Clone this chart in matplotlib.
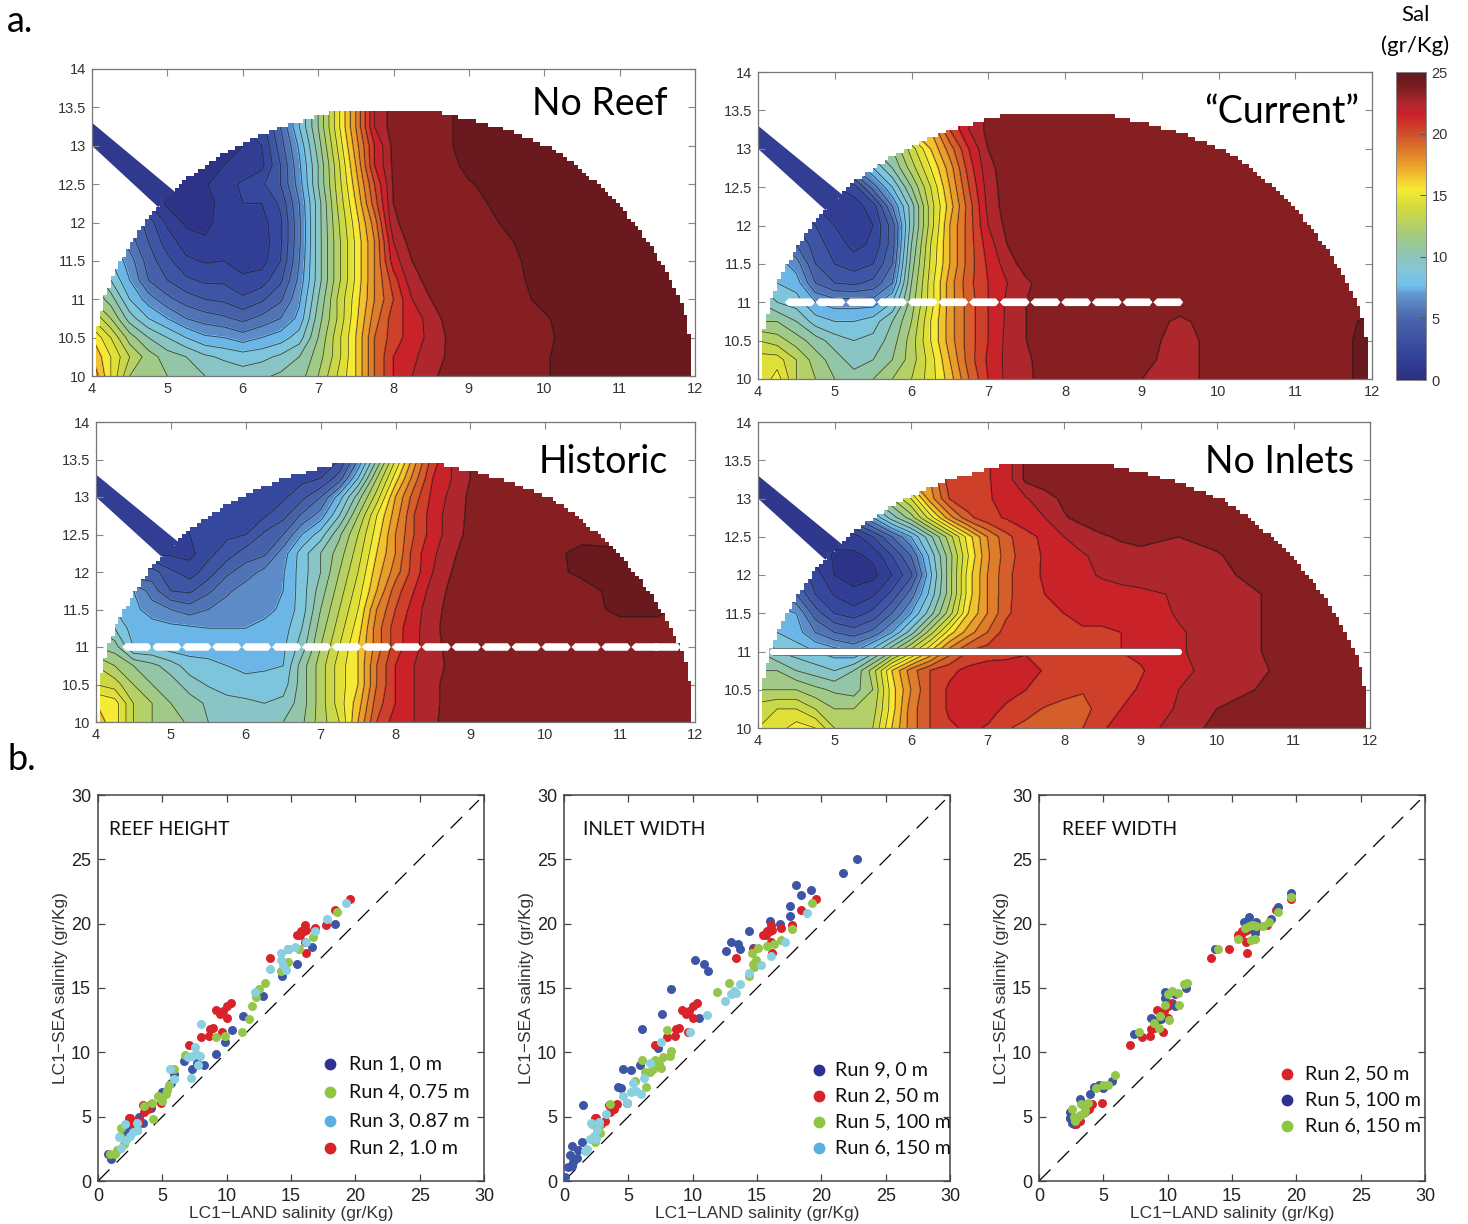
import numpy as np
import matplotlib
matplotlib.use('Agg')
import matplotlib.pyplot as plt
from matplotlib.colors import LinearSegmentedColormap, Normalize
from matplotlib.cm import ScalarMappable
from matplotlib.patches import Polygon

W, H = 1468, 1224
plt.rcParams['font.family'] = ['Liberation Sans', 'DejaVu Sans']

# --- salinity fields (rows: grid_y, columns: grid_x) ---
grid_x = [4, 4.25, 4.5, 4.75, 5, 5.25, 5.5, 5.75, 6, 6.25, 6.5, 6.75, 7, 7.25, 7.5, 7.75, 8, 8.25, 8.5, 8.75, 9, 9.5, 10, 10.5, 11, 11.5, 12]
grid_y = [10, 10.25, 10.5, 10.75, 11, 11.25, 11.5, 11.75, 12, 12.25, 12.5, 12.75, 13, 13.25, 13.5]

no_reef = [
    [18, 15, 12, 11.5, 11, 10.5, 10, 9.8, 9.5, 9.8, 10.2, 10.5, 12, 14, 16, 19, 21, 22, 22.7, 23.5, 23.6, 23.7, 23.9, 24.5, 24.5, 24.5, 24.5],
    [17, 15, 13, 11.5, 10.5, 10, 9.2, 8.8, 8.5, 8.7, 9.2, 10, 11.5, 13.5, 16, 19, 21, 21.8, 22.5, 23.2, 23.5, 23.6, 23.9, 24.5, 24.5, 24.5, 24.5],
    [16, 14, 11.5, 10, 9, 8, 7.2, 7, 6.5, 7, 7.5, 8.5, 11, 13.5, 16, 19, 20.5, 21.5, 22.3, 23.2, 23.5, 23.6, 23.8, 24.5, 24.5, 24.5, 24.5],
    [14, 12, 9.5, 8, 7, 6, 5.5, 5.2, 4.7, 5.3, 6, 7.3, 10.5, 13, 15.7, 18.5, 20.5, 21.5, 22.4, 23.5, 23.5, 23.6, 23.9, 24.5, 24.5, 24.5, 24.5],
    [12, 10.5, 8, 6.5, 5.3, 4.5, 4, 3.8, 3.2, 3.8, 4.8, 6.8, 10, 13, 15.5, 18, 20, 22, 23, 23.5, 23.5, 23.6, 24.2, 24.5, 24.5, 24.5, 24.5],
    [11, 9, 7, 5, 4, 3.2, 2.8, 2.8, 2.2, 2.5, 3.8, 6.3, 9.5, 12.5, 15.2, 18, 20.5, 22.7, 23.3, 23.5, 23.5, 23.7, 24.3, 24.5, 24.5, 24.5, 24.5],
    [10, 8, 6.5, 4.5, 3.3, 2.2, 1.9, 2, 1.6, 1.6, 3, 6, 9.5, 12.5, 15.2, 18, 21.5, 23, 23.5, 23.5, 23.5, 23.8, 24.3, 24.5, 24.5, 24.5, 24.5],
    [9, 7, 5.5, 4, 2.5, 1.5, 1.1, 1.3, 1.5, 1.4, 2.8, 5.8, 9.5, 12.5, 15.2, 18, 22, 23.5, 23.5, 23.5, 23.5, 23.9, 24.4, 24.5, 24.5, 24.5, 24.5],
    [8, 6, 5, 3.5, 1.8, 0.8, 0.8, 1.3, 1.8, 1.6, 2.8, 5.8, 9.5, 12.7, 15.5, 18.5, 22.8, 23.5, 23.5, 23.5, 23.6, 24.1, 24.5, 24.5, 24.5, 24.5, 24.5],
    [6, 4, 3, 2, 0.8, 0.6, 0.7, 1.3, 2, 2, 3.2, 6, 9.5, 13, 16, 19.5, 23, 23.5, 23.5, 23.5, 23.7, 24.3, 24.5, 24.5, 24.5, 24.5, 24.5],
    [4, 3, 2, 1.5, 1, 0.9, 0.9, 1.5, 2.2, 2.8, 4, 6.5, 10, 13.3, 16.5, 20, 23.1, 23.5, 23.5, 23.5, 23.9, 24.5, 24.5, 24.5, 24.5, 24.5, 24.5],
    [3, 2, 1.5, 1, 1, 1, 1, 1, 1.1, 1.7, 4, 6.8, 10, 13.5, 17, 21, 23.2, 23.5, 23.5, 23.7, 24.3, 24.5, 24.5, 24.5, 24.5, 24.5, 24.5],
    [2, 2, 1.5, 1, 1, 1, 1, 1, 1, 2, 4.5, 7.2, 10.5, 14, 17.5, 21, 23.3, 23.5, 23.5, 23.9, 24.5, 24.5, 24.5, 24.5, 24.5, 24.5, 24.5],
    [2, 2, 2, 2, 2, 2, 2, 2, 2, 2.5, 5, 8, 11, 14.5, 18, 22, 23.5, 23.5, 23.5, 23.9, 24.5, 24.5, 24.5, 24.5, 24.5, 24.5, 24.5],
    [2, 2, 2, 2, 2, 2, 2, 2, 2, 2.5, 5, 8, 11, 14.5, 18, 22, 23.5, 23.5, 23.5, 23.9, 24.5, 24.5, 24.5, 24.5, 24.5, 24.5, 24.5],
]

current = [
    [14, 15.5, 13, 12, 11, 10.5, 11, 12, 13, 14.5, 16.5, 19, 21, 22.3, 22.7, 23.5, 23.5, 23.5, 23.5, 23.5, 23, 22.5, 23.5, 23.5, 23.5, 23.5, 24.5],
    [14.5, 14.5, 13, 11.5, 10.5, 9.5, 10, 11, 12.5, 14.5, 17, 19.5, 21.2, 22.3, 22.8, 23.5, 23.5, 23.5, 23.5, 23.5, 23.3, 22.5, 23.5, 23.5, 23.5, 23.5, 24.5],
    [13, 12.5, 11.5, 10.5, 9.5, 9, 9.3, 10.5, 12.5, 15, 17.5, 19.5, 21, 22.3, 23, 23.5, 23.5, 23.5, 23.5, 23.5, 23.5, 22.5, 23.5, 23.5, 23.5, 23.5, 24.5],
    [11, 11, 10, 8.5, 8, 8, 8.5, 10, 12, 15, 17.5, 19.5, 21, 22.2, 23, 23.5, 23.5, 23.5, 23.5, 23.5, 23.5, 22.8, 23.5, 23.5, 23.5, 23.5, 24.3],
    [10, 9, 8.5, 7, 6.5, 6.5, 6.5, 8, 11.5, 14.5, 17.5, 19.5, 21, 22.2, 23, 23.5, 23.5, 23.5, 23.5, 23.5, 23.5, 23.5, 23.5, 23.5, 23.5, 23.5, 23.5],
    [9, 8, 7.5, 5, 4, 3.8, 4.3, 6, 11, 14.5, 17.5, 19.7, 21, 22, 22.8, 23.5, 23.5, 23.5, 23.5, 23.5, 23.5, 23.5, 23.5, 23.5, 23.5, 23.5, 23.5],
    [8, 7.5, 6.5, 4, 3, 2.5, 3, 5, 10.5, 14.2, 17, 19.5, 21.2, 22.5, 23.5, 23.5, 23.5, 23.5, 23.5, 23.5, 23.5, 23.5, 23.5, 23.5, 23.5, 23.5, 23.5],
    [7, 6, 5, 3.5, 2.5, 1.7, 2.2, 4.5, 10, 14, 17, 19.5, 21.5, 23, 23.5, 23.5, 23.5, 23.5, 23.5, 23.5, 23.5, 23.5, 23.5, 23.5, 23.5, 23.5, 23.5],
    [6, 5, 4, 3, 2, 1.5, 2, 4.5, 9.5, 13.5, 17, 19.5, 22, 23.3, 23.5, 23.5, 23.5, 23.5, 23.5, 23.5, 23.5, 23.5, 23.5, 23.5, 23.5, 23.5, 23.5],
    [5, 4, 3, 2, 1.5, 1.5, 2.5, 6, 9.5, 13.5, 16.5, 19.5, 22.3, 23.5, 23.5, 23.5, 23.5, 23.5, 23.5, 23.5, 23.5, 23.5, 23.5, 23.5, 23.5, 23.5, 23.5],
    [4, 3, 2, 1.5, 2, 2.5, 5.5, 8, 11, 14, 17, 20, 22.5, 23.5, 23.5, 23.5, 23.5, 23.5, 23.5, 23.5, 23.5, 23.5, 23.5, 23.5, 23.5, 23.5, 23.5],
    [4, 3, 3, 4, 5, 6, 8, 10, 12.5, 15, 17.5, 20.5, 22.7, 23.5, 23.5, 23.5, 23.5, 23.5, 23.5, 23.5, 23.5, 23.5, 23.5, 23.5, 23.5, 23.5, 23.5],
    [6, 6, 6, 6, 7, 8, 10, 11, 13.5, 16, 18.5, 21, 23, 23.5, 23.5, 23.5, 23.5, 23.5, 23.5, 23.5, 23.5, 23.5, 23.5, 23.5, 23.5, 23.5, 23.5],
    [10, 10, 10, 10, 11, 12, 13, 15, 16, 17, 20, 22, 23.3, 23.5, 23.5, 23.5, 23.5, 23.5, 23.5, 23.5, 23.5, 23.5, 23.5, 23.5, 23.5, 23.5, 23.5],
    [10, 10, 10, 10, 11, 12, 13, 15, 16, 17, 20, 22, 23.3, 23.5, 23.5, 23.5, 23.5, 23.5, 23.5, 23.5, 23.5, 23.5, 23.5, 23.5, 23.5, 23.5, 23.5],
]

historic = [
    [16.5, 15.5, 13, 12, 11.5, 10.8, 10, 9.8, 9.3, 9.5, 10, 10.8, 12.5, 14, 17, 20, 21.5, 22, 22.8, 23.5, 23.5, 23.5, 23.5, 23.5, 23.5, 23.5, 23.5],
    [16, 15.5, 13, 12, 11, 10.5, 9.8, 9.3, 9.2, 9, 9.3, 10.5, 12.5, 14.5, 16.5, 19.5, 21, 22, 22.7, 23.5, 23.5, 23.5, 23.5, 23.5, 23.5, 23.5, 23.5],
    [14, 13.5, 12, 11, 10.5, 9.5, 8.9, 8.6, 8.4, 8.5, 8.5, 10.5, 12.5, 14.5, 16, 19, 21, 22, 22.7, 23.5, 23.5, 23.5, 23.5, 23.5, 23.5, 23.5, 23.5],
    [13, 12, 11, 10.3, 9.5, 8.5, 8.3, 8, 7.7, 7.8, 8, 10.5, 12.5, 14.5, 16, 19, 21, 22, 22.5, 23.3, 23.5, 23.5, 23.5, 23.5, 23.5, 23.5, 23.5],
    [11, 10.5, 8, 8, 7.5, 7.5, 7.5, 7.5, 7.5, 7.6, 7.8, 9.5, 12, 14, 16, 18.5, 20.5, 21.8, 22.5, 23.5, 23.5, 23.5, 23.5, 23.5, 23.5, 23.5, 23.5],
    [10, 9, 7.5, 7.5, 7.3, 7.2, 7, 7, 7, 7.3, 7.5, 9, 11.5, 13.5, 15.5, 18.5, 20.5, 21.7, 22.7, 23.5, 23.5, 23.5, 23.5, 23.5, 23.5, 23.5, 23.5],
    [9, 8, 7.3, 6.5, 6, 5.5, 6, 6.5, 6.5, 6.7, 7.2, 8.5, 11, 13, 15, 18, 20, 21.5, 22.7, 23.3, 23.5, 23.5, 23.5, 23.5, 24.3, 24.3, 23.5],
    [8, 7, 7, 5.5, 4, 3.8, 4.8, 5.8, 6.5, 6.5, 7, 8.5, 10.5, 12.5, 14.5, 17, 19.5, 21, 22.5, 23.2, 23.5, 23.5, 23.5, 23.5, 24.5, 24.5, 23.5],
    [6, 5, 4, 4.5, 3.2, 2.5, 3.5, 4.8, 5.5, 6.3, 6.9, 8.5, 10, 12, 14, 16.5, 18.5, 20.5, 22, 23, 23.5, 23.5, 23.5, 24.3, 24.3, 24.5, 23.5],
    [4, 3, 2, 2, 1.8, 1.7, 2.7, 3.5, 4.5, 4.8, 6.5, 8.5, 10, 11.5, 13.5, 16, 18, 20.5, 21.8, 22.8, 23.5, 23.5, 23.5, 24.4, 24.2, 23.5, 23.5],
    [3, 2, 2, 2, 2, 2, 2.5, 2.8, 3, 4.2, 5, 7, 8.5, 10.8, 13, 15.5, 18, 20, 21.5, 22.5, 23.3, 23.5, 23.5, 23.5, 23.5, 23.5, 23.5],
    [2, 2, 2, 2, 2, 2, 2.5, 2.6, 2.7, 2.9, 3.7, 5.2, 6.5, 9, 12, 15, 17.5, 20, 21.5, 22.5, 23.2, 23.5, 23.5, 23.5, 23.5, 23.5, 23.5],
    [2, 2, 2, 2, 2, 2, 2, 2, 2.4, 2.5, 2.8, 3.7, 5, 7.5, 10.5, 13.5, 17, 19.5, 21.3, 22.3, 23.2, 23.5, 23.5, 23.5, 23.5, 23.5, 23.5],
    [2, 2, 2, 2, 2, 2, 2, 2, 2, 2.4, 2.5, 2.7, 3, 4.5, 8, 12, 15.5, 18.5, 21, 22, 23, 23.5, 23.5, 23.5, 23.5, 23.5, 23.5],
    [2, 2, 2, 2, 2, 2, 2, 2, 2, 2, 2.4, 2.5, 2.7, 3, 6, 10, 14, 17.5, 20.5, 22, 23, 23.5, 23.5, 23.5, 23.5, 23.5, 23.5],
]

no_inlets = [
    [14, 14.5, 15.5, 15, 13, 12.5, 13, 16, 18.5, 20, 20.8, 21.2, 20.9, 20.1, 19.7, 19.5, 19.7, 20, 20.9, 21.3, 21.6, 22.4, 23.3, 23.5, 23.5, 23.5, 23.5],
    [13.5, 14, 14, 13, 12, 12, 12.5, 15.5, 18.5, 20, 21.2, 21.5, 21.4, 20.8, 20.4, 19.9, 19.6, 19.6, 20.5, 21, 21.4, 22.1, 23, 23.5, 23.5, 23.5, 23.5],
    [12, 12, 12, 11.3, 10.8, 10.5, 12, 15.5, 18, 20, 21.2, 21.5, 21.5, 21.4, 21, 20.8, 20.4, 20.1, 20.3, 20.7, 21.1, 22, 22.6, 23, 23.5, 23.5, 23.5],
    [11, 11, 10, 9.5, 9, 10, 12.5, 16, 18.5, 20, 20.7, 21.3, 21.5, 21.4, 21.4, 20.9, 20.8, 20.8, 20.9, 20.7, 20.9, 21.8, 22.3, 22.7, 23.5, 23.5, 23.5],
    [10, 9, 8.5, 8, 7.5, 7, 8.5, 11, 13.5, 16, 18.5, 20, 20.5, 20.7, 20.9, 20.9, 20.9, 20.9, 21, 21, 21.2, 21.9, 22.4, 22.9, 23.5, 23.5, 23.5],
    [9, 8, 7.5, 6, 5, 4.5, 5.3, 7, 9.5, 12.5, 15.5, 17.5, 19, 20.5, 20.7, 20.8, 20.9, 20.9, 20.9, 21, 21.3, 21.9, 22.4, 22.9, 23.5, 23.5, 23.5],
    [8, 7.5, 7, 4.5, 3, 2.5, 3.3, 5, 7, 9.5, 12.5, 16, 18, 19.8, 20.7, 20.9, 21, 21.2, 21.2, 21.3, 21.5, 22.1, 22.5, 22.9, 23.5, 23.5, 23.5],
    [7, 6, 5, 3, 1.9, 1.2, 1.8, 3.3, 5.5, 8.3, 11.5, 15.5, 18, 19.7, 20.7, 21, 21.4, 21.5, 21.6, 21.7, 21.8, 22.1, 22.5, 22.9, 23.5, 23.5, 23.5],
    [6, 5, 4, 2.5, 1, 0.7, 0.7, 2, 3.8, 7.7, 11.5, 15.5, 18, 19.7, 20.7, 21.1, 21.5, 21.8, 22.1, 22.3, 22.4, 22.6, 22.7, 23.3, 23.5, 23.5, 23.5],
    [4, 3, 2, 1.5, 0.9, 0.8, 1.2, 3, 5, 8.3, 11.5, 15, 17.8, 19.5, 20.6, 21.1, 21.6, 21.9, 22.3, 22.7, 22.8, 22.9, 22.9, 23.5, 23.5, 23.5, 23.5],
    [3, 2, 2, 1.5, 1.2, 1.5, 3, 5, 7, 9.7, 12.5, 15.5, 18, 19.7, 20.7, 21.2, 22, 22.5, 22.9, 23.1, 23.2, 23, 23.3, 23.5, 23.5, 23.5, 23.5],
    [3, 3, 3, 3, 4, 5, 7, 9.5, 11.5, 14.5, 17.5, 19.7, 20.7, 21.1, 21.5, 22, 22.9, 23.3, 23.5, 23.5, 23.5, 23.5, 23.5, 23.5, 23.5, 23.5, 23.5],
    [5, 5, 6, 7, 8, 9, 10, 12, 14, 17.5, 20, 20.7, 20.9, 21.3, 21.9, 22.6, 23.2, 23.5, 23.5, 23.5, 23.5, 23.5, 23.5, 23.5, 23.5, 23.5, 23.5],
    [10, 10, 11, 12, 13, 14, 15, 16, 17, 18, 20.5, 20.7, 20.9, 21.5, 23.2, 23.5, 23.5, 23.5, 23.5, 23.5, 23.5, 23.5, 23.5, 23.5, 23.5, 23.5, 23.5],
    [10, 10, 11, 12, 13, 14, 15, 16, 17, 18, 20.5, 20.7, 20.9, 21.5, 23.2, 23.5, 23.5, 23.5, 23.5, 23.5, 23.5, 23.5, 23.5, 23.5, 23.5, 23.5, 23.5],
]

# lagoon outline and the channel that leaves it to the upper left
shore_y = [10, 10.25, 10.5, 10.75, 11, 11.25, 11.5, 11.75, 12, 12.25, 12.5, 12.75, 13, 13.2, 13.35, 13.45]
shore_left = [4.03, 4.04, 4.05, 4.1, 4.17, 4.27, 4.4, 4.55, 4.72, 4.92, 5.2, 5.55, 5.98, 6.45, 6.95, 7.35]
shore_right = [11.97, 11.96, 11.94, 11.9, 11.82, 11.7, 11.55, 11.4, 11.2, 11.0, 10.74, 10.45, 10.1, 9.6, 9.1, 8.65]
channel_x = [4, 5.1, 4.88, 4]
channel_y = [13.3, 12.4, 12.2, 13.0]

# reef segments along y = 11
current_wall = [4.35, 4.75, 5.15, 5.55, 5.95, 6.35, 6.75, 7.15, 7.55, 7.95, 8.35, 8.75, 9.15]
historic_wall = [4.35, 4.75, 5.15, 5.55, 5.95, 6.35, 6.75, 7.15, 7.55, 7.95, 8.35, 8.75, 9.15, 9.55, 9.95, 10.35, 10.75, 11.15, 11.42]

# colour scale
sal_stops = [0, 2, 5, 7, 7.6, 9, 10, 12, 14, 15.5, 17, 19, 20, 21.5, 22.5, 23.5, 24.5, 25]
sal_colors = ['#2b2f80', '#33439b', '#4a66ad', '#6399d0', '#6dc0ee', '#85c6d4', '#8cc4b8', '#a8cc78', '#d3da3c',
              '#f5ea35', '#efb02b', '#d96f2a', '#cf4f2a', '#cc2229', '#b0272c', '#861f22', '#6a1a1e', '#661a1e']

# --- scatter data (LC1-LAND, LC1-SEA) ---
run1_x = [0.8, 1.0, 2.2, 2.5, 3.0, 3.2, 3.5, 4.1, 5.0, 5.7, 5.9, 6.7, 7.3, 7.7, 8.2, 9.2, 9.9, 10.4, 11.3, 12.8, 14.3, 15.5, 16.6, 18.4]
run1_y = [2.1, 1.7, 3.8, 4.0, 4.0, 5.0, 4.5, 5.7, 6.9, 7.6, 8.3, 9.3, 8.7, 9.2, 9.0, 9.9, 10.8, 11.7, 12.8, 14.4, 15.9, 16.9, 18.2, 20.0]
run4_x = [0.9, 1.3, 1.5, 1.8, 1.7, 2.0, 3.6, 4.2, 4.3, 4.7, 5.0, 5.3, 5.4, 5.5, 5.9, 6.8, 9.2, 9.9, 11.2, 11.7, 12, 12.3, 12.5, 13, 14.2, 14.8, 15.6, 16.7, 18.6]
run4_y = [2.1, 2.1, 2.4, 4.1, 3.5, 2.9, 5.8, 6.1, 4.8, 6.6, 6.2, 6.8, 7.1, 7.5, 8.7, 9.8, 11.2, 11.3, 11.6, 12.6, 13.6, 14.3, 14.9, 15.4, 16.3, 17, 18, 19, 20.9]
run3_x = [1.6, 1.8, 2.1, 2.2, 2.5, 2.7, 3.0, 3.0, 5.6, 5.9, 7.0, 7.2, 7.3, 7.5, 7.6, 7.8, 7.9, 8.0, 12.2, 13.4, 14.2, 14.2, 14.4, 14.6, 14.8, 15.3, 16.2, 16.9, 17.8, 19.3]
run3_y = [3.4, 2.6, 4.4, 3.2, 3.5, 3.8, 4.0, 4.5, 8.7, 7.9, 9.6, 8.0, 9.7, 10.4, 9.9, 9.0, 9.7, 12.2, 14.7, 16.5, 17.7, 17.2, 16.8, 16.4, 18, 18.2, 18.6, 19.4, 20.4, 21.6]
run2_x = [2.4, 2.5, 2.7, 2.9, 3.2, 3.5, 3.6, 3.9, 4.1, 4.9, 7.1, 8.0, 8.6, 8.7, 8.9, 9.6, 9.2, 9.5, 9.7, 10.0, 10.0, 10.3, 13.4, 14.8, 15.5, 15.7, 15.8, 16.0, 16.2, 16.1, 16.1, 16.2, 16.9, 17.7, 18.4, 19.6]
run2_y = [4.9, 4.9, 4.4, 4.4, 4.7, 5.9, 5.4, 5.6, 6.0, 6.1, 10.6, 11.2, 11.3, 11.8, 11.9, 11.6, 13.3, 13.0, 13.2, 12.7, 13.6, 13.8, 17.3, 18.0, 19.1, 19.1, 19.4, 19.4, 19.5, 19.9, 18.6, 17.7, 19.7, 19.9, 21.1, 21.9]

run9_x = [0.1, 0.3, 0.5, 0.6, 0.6, 0.7, 1.0, 1.1, 1.4, 1.5, 4.2, 4.4, 4.6, 5.2, 5.9, 6.1, 7.3, 7.6, 8.3, 10.2, 10.5, 10.9, 11.2, 12.6, 13.0, 13.5, 13.7, 14.4, 14.7, 16.0, 16.8, 17.6, 17.6, 18.0, 18.4, 19.2, 21.7, 22.8]
run9_y = [0.3, 1.1, 2.0, 2.7, 1.2, 1.5, 1.8, 2.4, 3.0, 5.9, 7.3, 7.2, 8.7, 8.6, 9.0, 11.8, 10.3, 13.0, 14.9, 17.2, 12.7, 16.9, 16.3, 17.9, 18.6, 18.4, 18.0, 19.4, 18.1, 20.2, 20.0, 20.6, 21.4, 23.0, 22.2, 22.6, 23.9, 25.0]
run5_x = [2.2, 2.4, 2.7, 2.8, 3.6, 5.5, 6.1, 6.3, 6.4, 6.7, 6.9, 7.1, 7.4, 7.5, 7.7, 8.0, 8.2, 8.3, 11.9, 12.8, 14.4, 14.6, 14.7, 14.8, 14.9, 15.1, 15.8, 16.3, 16.9, 17.7, 19.3]
run5_y = [4.4, 3.0, 4.3, 3.7, 6.0, 7.8, 9.4, 8.5, 7.3, 8.5, 8.7, 9.4, 9.1, 8.8, 9.6, 11.7, 9.7, 10.1, 14.7, 15.4, 15.9, 17.7, 16.9, 16.6, 17.2, 18.1, 18.3, 18.4, 18.7, 19.6, 21.6]
run6_x = [1.6, 1.8, 2.0, 2.1, 2.3, 2.5, 2.6, 2.7, 3.3, 4.6, 4.9, 5.2, 5.6, 5.4, 6.0, 6.2, 6.7, 7.5, 9.8, 11.1, 12.5, 13.0, 13.2, 13.4, 13.7, 14.4, 15.3, 16.1, 17.2, 18.9]
run6_y = [2.3, 2.5, 3.3, 4.5, 3.5, 3.3, 4.0, 4.6, 5.2, 6.6, 6.1, 6.9, 7.0, 7.6, 6.8, 8.0, 9.2, 10.8, 11.6, 12.9, 14.0, 14.5, 14.8, 14.6, 15.3, 16.2, 16.8, 17.5, 18.6, 20.8]

width100_x = [2.4, 2.4, 2.6, 3.2, 4.0, 4.3, 4.7, 5.0, 5.7, 7.4, 8.7, 9.2, 9.5, 9.8, 9.8, 10.6, 10.6, 11.4, 13.7, 15.9, 16.3, 16.5, 16.8, 16.9, 18.0, 18.6, 19.6]
width100_y = [5.4, 4.9, 4.5, 6.4, 6.8, 7.3, 7.5, 7.2, 7.8, 11.4, 12.7, 12.5, 12.6, 14.7, 14.2, 14.5, 13.6, 15.0, 18.0, 20.1, 20.5, 19.7, 19.3, 20.1, 20.4, 21.3, 22.4]
width150_x = [2.6, 2.7, 2.8, 3.0, 3.2, 3.3, 3.5, 3.6, 3.8, 4.4, 5.0, 5.4, 5.9, 7.8, 8.9, 9.3, 9.4, 9.8, 10.0, 10.1, 10.3, 10.8, 10.9, 11.3, 11.5, 13.9, 15.5, 16.0, 16.3, 16.5, 16.8, 16.6, 16.9, 17.4, 17.9, 18.6, 19.6]
width150_y = [5.6, 5.0, 4.7, 5.0, 5.1, 6.0, 5.3, 5.5, 6.1, 7.2, 7.5, 7.5, 8.2, 11.6, 12.3, 11.9, 12.8, 13.7, 14.5, 12.5, 14.8, 14.6, 13.7, 15.3, 15.4, 18.0, 18.8, 19.7, 19.8, 18.7, 18.8, 19.9, 19.8, 19.8, 20.1, 20.9, 22.1]

navy = '#3d55a5'
red = '#d8232a'
green = '#94c64a'
sky = '#8ad0e0'
navy_key = '#2e3192'
green_key = '#8dc63f'
sky_key = '#58b0e0'
lato = ['Lato', 'DejaVu Sans']

cmap = LinearSegmentedColormap.from_list('sal', [(s / 25, c) for s, c in zip(sal_stops, sal_colors)], N=256)
norm = Normalize(0, 25)


def px_axes(fig, left, top, right, bottom):
    return fig.add_axes([left / W, 1 - bottom / H, (right - left) / W, (bottom - top) / H])


def px_text(fig, x, y, s, **kw):
    fig.text(x / W, 1 - y / H, s, **kw)


def shore_outline():
    # the model grid makes the shore a staircase, so snap the outline to steps
    ys = np.arange(10, 13.4501, 0.05)
    left = np.round(np.interp(ys, shore_y, shore_left) / 0.05) * 0.05
    right = np.round(np.interp(ys, shore_y, shore_right) / 0.05) * 0.05
    pts = []
    for i, y in enumerate(ys):
        pts.append((left[i], y))
        if i + 1 < len(ys):
            pts.append((left[i], ys[i + 1]))
    for i in range(len(ys) - 1, -1, -1):
        pts.append((right[i], ys[i]))
        if i > 0:
            pts.append((right[i], ys[i - 1]))
    return pts


def lagoon(ax, table, channel_val, title, title_x, title_y, wall=None, solid_wall=False):
    z = np.array(table, dtype=float)
    levels = np.arange(0, 26)
    clip = Polygon(shore_outline(), closed=True, transform=ax.transData, fc='none', ec='none')
    ax.add_patch(clip)
    ax.fill(channel_x, channel_y, color=cmap(norm(channel_val)), lw=0, zorder=1)
    cf = ax.contourf(grid_x, grid_y, z, levels=levels, cmap=cmap, norm=norm, zorder=2)
    cf.set_edgecolor('face')
    cf.set_clip_path(clip)
    cl = ax.contour(grid_x, grid_y, z, levels=levels, colors='#1a1a1a', linewidths=0.6, alpha=0.75, zorder=3)
    cl.set_clip_path(clip)
    if solid_wall:
        ax.plot([4.2, 9.5], [11, 11], color='#555555', lw=5.5, solid_capstyle='butt', zorder=4)
        ax.plot([4.2, 9.5], [11, 11], color='white', lw=4.5, solid_capstyle='round', zorder=5)
    if wall is not None:
        for s in wall:
            ax.fill([s, s + 0.05, s + 0.35, s + 0.39, s + 0.35, s + 0.05],
                    [11, 11.05, 11.05, 11, 10.95, 10.95], color='white', lw=0, zorder=5)
    ax.set_xlim(4, 12)
    ax.set_ylim(10, 14)
    ax.set_xticks(range(4, 13))
    ax.set_yticks(np.arange(10, 14.01, 0.5))
    ax.set_yticklabels(['10', '10.5', '11', '11.5', '12', '12.5', '13', '13.5', '14'])
    ax.tick_params(direction='in', top=True, right=True, length=5, width=0.8, color='#888888',
                   labelsize=10.5, labelcolor='#333333', pad=4)
    for sp in ax.spines.values():
        sp.set_color('#777777')
        sp.set_linewidth(0.9)
        sp.set_zorder(6)
    ax.text(title_x, title_y, title, ha='center', va='center', fontsize=27, color='black',
            family=lato, zorder=7)


def scatter_panel(ax, series, keys, title, title_x, key_x, text_x, key_rows):
    for xs, ys, c in series:
        ax.scatter(xs, ys, s=42, color=c, lw=0, zorder=3)
    ax.plot([0, 29.6], [0, 29.6], color='black', lw=0.9, dashes=(13, 8), zorder=2)
    for (label, c), ky in zip(keys, key_rows):
        ax.scatter([key_x], [ky], s=72, color=c, lw=0, zorder=4)
        ax.text(text_x, ky, label, fontsize=14.2, va='center', ha='left', color='#111111',
                family=lato, zorder=4, clip_on=False)
    ax.text(title_x, 27.35, title, fontsize=13.8, va='center', color='#111111', family=lato)
    ax.set_xlim(0, 30)
    ax.set_ylim(0, 30)
    ax.set_xticks(range(0, 31, 5))
    ax.set_yticks(range(0, 31, 5))
    ax.tick_params(direction='in', top=True, right=True, length=5, width=0.9, color='#444444',
                   labelsize=13, labelcolor='#222222', pad=5)
    ax.set_xlabel('LC1\u2212LAND salinity (gr/Kg)', fontsize=12.5, color='#333333', labelpad=1)
    ax.set_ylabel('LC1\u2212SEA salinity (gr/Kg)', fontsize=12.5, color='#333333', labelpad=2)
    for sp in ax.spines.values():
        sp.set_color('#444444')
        sp.set_linewidth(1.1)


fig = plt.figure(figsize=(W / 100, H / 100), dpi=100)

lagoon(px_axes(fig, 92, 69, 695, 376), no_reef, 1.0, 'No Reef', 10.74, 13.54)
lagoon(px_axes(fig, 758, 72, 1372, 379), current, 1.5, '\u201cCurrent\u201d', 10.83, 13.48, wall=current_wall)
lagoon(px_axes(fig, 96, 422, 695, 722), historic, 1.5, 'Historic', 10.78, 13.47, wall=historic_wall)
lagoon(px_axes(fig, 758, 422, 1370, 728), no_inlets, 0.9, 'No Inlets', 10.82, 13.48, solid_wall=True)

cax = px_axes(fig, 1396, 72, 1426, 380)
cb = fig.colorbar(ScalarMappable(norm=norm, cmap=cmap), cax=cax, ticks=[0, 5, 10, 15, 20, 25])
cb.ax.tick_params(direction='in', length=4, width=0.7, color='#555555', labelsize=10.5, labelcolor='#333333', pad=4)
cb.outline.set_edgecolor('#888888')
cb.outline.set_linewidth(0.7)

px_text(fig, 1415, 15, 'Sal', fontsize=16, ha='center', va='center', family=lato)
px_text(fig, 1415, 46, '(gr/Kg)', fontsize=16, ha='center', va='center', family=lato)
px_text(fig, 7, 21, 'a.', fontsize=26, ha='left', va='center', family=lato)
px_text(fig, 7, 760, 'b.', fontsize=26, ha='left', va='center', family=lato)

scatter_panel(px_axes(fig, 98, 795, 484, 1181),
              [(run1_x, run1_y, navy), (run2_x, run2_y, red), (run4_x, run4_y, green), (run3_x, run3_y, sky)],
              [('Run 1, 0 m', navy_key), ('Run 4, 0.75 m', green_key), ('Run 3, 0.87 m', sky_key), ('Run 2, 1.0 m', red)],
              'REEF HEIGHT', 0.85, 18.0, 19.5, [9.1, 6.9, 4.7, 2.6])
scatter_panel(px_axes(fig, 564, 795, 950, 1181),
              [(run9_x, run9_y, navy), (run2_x, run2_y, red), (run5_x, run5_y, green), (run6_x, run6_y, sky)],
              [('Run 9, 0 m', navy_key), ('Run 2, 50 m', red), ('Run 5, 100 m', green_key), ('Run 6, 150 m', sky_key)],
              'INLET WIDTH', 1.45, 19.8, 21.1, [8.6, 6.6, 4.6, 2.6])
scatter_panel(px_axes(fig, 1039, 795, 1425, 1181),
              [(run2_x, run2_y, red), (width100_x, width100_y, navy), (width150_x, width150_y, green)],
              [('Run 2, 50 m', red), ('Run 5, 100 m', navy_key), ('Run 6, 150 m', green_key)],
              'REEF WIDTH', 1.8, 19.3, 20.7, [8.3, 6.3, 4.3])

fig.savefig('out.png', dpi=100, facecolor='white')
